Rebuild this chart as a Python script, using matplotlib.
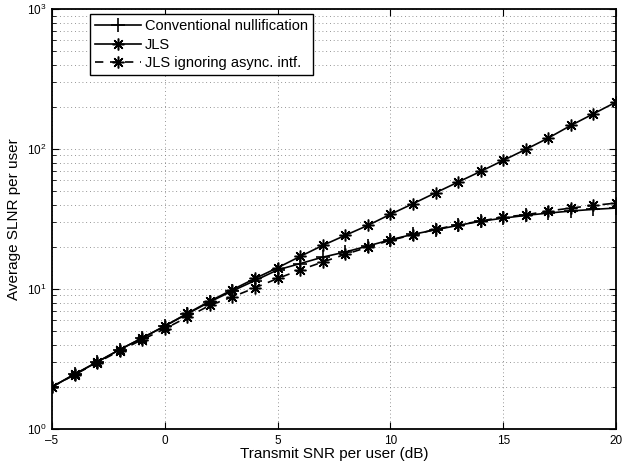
import matplotlib
matplotlib.use("Agg")
import matplotlib.pyplot as plt
from matplotlib.ticker import LogLocator, NullFormatter

plt.rcParams['font.family'] = ['Liberation Sans', 'DejaVu Sans']
plt.rcParams['mathtext.fontset'] = 'custom'
plt.rcParams['mathtext.rm'] = 'Liberation Sans'
plt.rcParams['mathtext.it'] = 'Liberation Sans'

snr_db = list(range(-5, 21))
conventional = [2.0, 2.46, 3.01, 3.69, 4.47, 5.44, 6.65, 8.1, 9.7, 11.5, 13.7, 15.2, 16.9,
                18.4, 20.3, 22.5, 24.6, 26.5, 28.5, 30.5, 32.1, 33.6, 34.9, 36.1, 37.1, 37.9]
jls = [2.0, 2.46, 3.01, 3.69, 4.47, 5.44, 6.7, 8.2, 9.9, 11.9, 14.2, 17.1, 20.5, 24.2,
       28.5, 34.2, 40.7, 48.7, 58.1, 69.3, 83.0, 99.5, 120.0, 147.6, 178.7, 216.6]
jls_ignoring = [2.0, 2.44, 2.98, 3.62, 4.35, 5.2, 6.3, 7.65, 8.8, 10.2, 11.9, 13.7, 15.6,
                17.7, 19.9, 22.3, 24.4, 26.7, 28.8, 30.6, 32.7, 33.9, 36.1, 37.9, 39.6, 41.1]

labels = ["Conventional nullification", "JLS", "JLS ignoring async. intf."]
xticks = [-5, 0, 5, 10, 15, 20]

fig = plt.figure(figsize=(6.38, 4.66), dpi=100)
ax = fig.add_axes([0.0815, 0.0794, 0.884, 0.901])

lw = 1.2
asterisk = (8, 2, 0)
ax.plot(snr_db, conventional, '-', color='k', marker='+', markersize=10, markeredgewidth=1.2,
        linewidth=lw, label=labels[0])
ax.plot(snr_db, jls, '-', color='k', marker=asterisk, markersize=8.5, markeredgewidth=1.1,
        linewidth=lw, label=labels[1])
ax.plot(snr_db, jls_ignoring, '--', color='k', marker=asterisk, markersize=8.5, markeredgewidth=1.1,
        linewidth=lw, dashes=(5, 4), label=labels[2])

ax.set_yscale('log')
ax.set_xlim(-5, 20)
ax.set_ylim(1, 1000)
ax.set_xticks(xticks)
ax.set_xticklabels([str(v).replace('-', '\u2013') for v in xticks])
ax.yaxis.set_major_locator(LogLocator(base=10, numticks=10))
ax.yaxis.set_minor_locator(LogLocator(base=10, subs=range(2, 10), numticks=20))
ax.yaxis.set_minor_formatter(NullFormatter())

ax.grid(True, which='major', linestyle=(0, (1, 3.5)), color='0.45', linewidth=0.6)
ax.grid(True, which='minor', axis='y', linestyle=(0, (1, 3.5)), color='0.45', linewidth=0.6)

ax.tick_params(which='both', direction='in', top=True, right=True, labelsize=8.5)
ax.tick_params(which='major', length=5, pad=4)
ax.tick_params(which='minor', length=3)
for s in ax.spines.values():
    s.set_linewidth(1.3)

ax.set_xlabel("Transmit SNR per user (dB)", fontsize=11, labelpad=0)
ax.set_ylabel("Average SLNR per user", fontsize=11, labelpad=4)

leg = ax.legend(loc='upper left', bbox_to_anchor=(0.06, 0.998), fontsize=10.5, frameon=True,
                fancybox=False, edgecolor='k', framealpha=1, handlelength=3.1,
                borderaxespad=0.3, labelspacing=0.3, handletextpad=0.3, borderpad=0.35)
leg.get_frame().set_linewidth(1.0)

fig.savefig("out.png", dpi=100)
